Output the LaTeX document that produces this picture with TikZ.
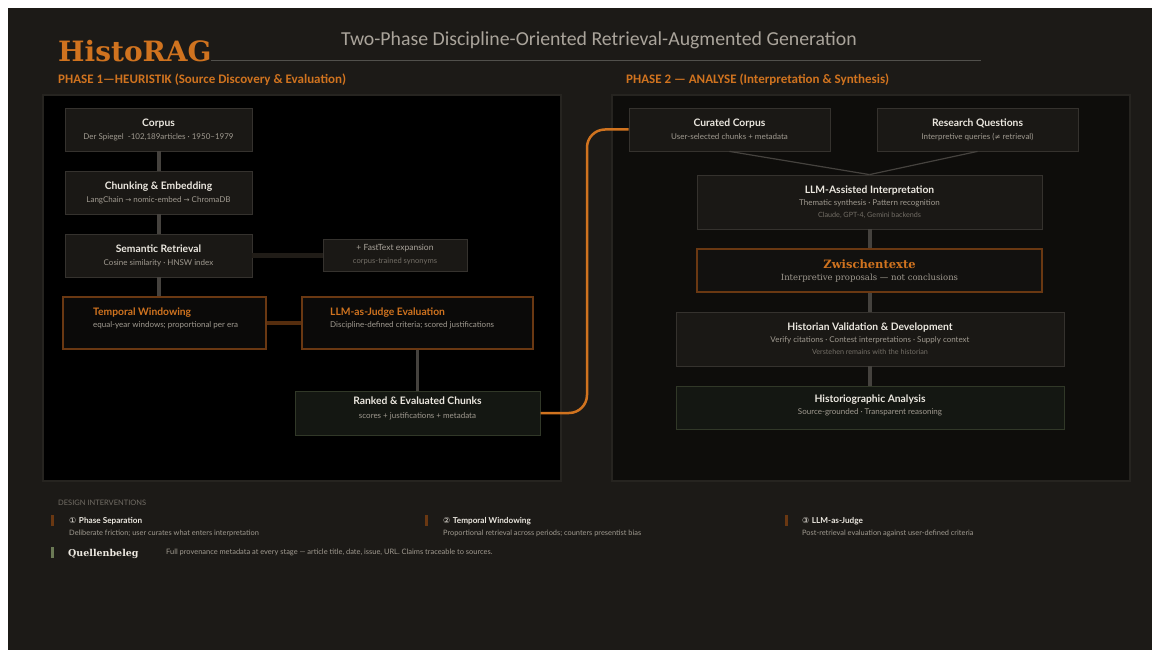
\documentclass[tikz,border=0pt]{standalone}
\usepackage{fontspec}
\setmainfont{Lato}
\newfontfamily\calfont{Carlito}
\newfontfamily\serfont{DejaVu Serif}
\newfontfamily\dvsfont{DejaVu Sans}
\definecolor{bg}{HTML}{1C1A17}
\definecolor{orng}{HTML}{D0731F}
\definecolor{orngdk}{HTML}{6A3812}
\definecolor{nodefill}{HTML}{1A1815}
\definecolor{nodeedge}{HTML}{35322E}
\definecolor{txtw}{HTML}{ECE8E0}
\definecolor{txtg}{HTML}{A09A90}
\definecolor{txtd}{HTML}{736E66}
\definecolor{conn}{HTML}{45423E}
\definecolor{greenfill}{HTML}{141712}
\definecolor{greenedge}{HTML}{313828}
\definecolor{panelb}{HTML}{0E0D0B}
\definecolor{paneledge}{HTML}{262420}
\definecolor{greenbar}{HTML}{6B7A55}
\newcommand\mkttl[1]{{\fontsize{10.3}{12}\selectfont\bfseries\color{txtw}#1}}
\newcommand\mksub[1]{{\fontsize{8}{9.5}\selectfont\color{txtg}#1}}
\newcommand\mkthd[1]{{\fontsize{7.2}{8.5}\selectfont\color{txtd}#1}}
\begin{document}
\begin{tikzpicture}[x=1pt,y=-1pt,
  box/.style={draw=nodeedge, fill=nodefill, line width=0.8pt, inner sep=0pt, align=center},
  obox/.style={draw=orngdk, fill=black!60!bg, line width=1.2pt, inner sep=0pt},
  gbox/.style={draw=greenedge, fill=greenfill, line width=1pt, inner sep=0pt, align=center},
  vconn/.style={draw=conn, line width=4pt},
  oconn/.style={draw=orngdk!80!black, line width=3.5pt},
  thinconn/.style={draw=conn, line width=1.2pt},
  flow/.style={draw=orng, line width=2.5pt, rounded corners=18pt},
  lbl/.style={inner sep=0pt, anchor=west, align=left},
]
\useasboundingbox (0,0) rectangle (1152,650);
\fill[white] (0,0) rectangle (1152,650);
\fill[bg] (8,8) rectangle (1152,650);

% header
\draw[paneledge!80!white, line width=1pt] (211,61) -- (981,61);
\node[lbl, anchor=base west, text=orng] (brand) at (58,62) {\serfont\bfseries\fontsize{28}{30}\selectfont HistoRAG};
\node[inner sep=0pt, text=txtg!90!white] (title) at (599,40) {\calfont\fontsize{19.8}{22}\selectfont Two-Phase Discipline-Oriented Retrieval-Augmented Generation};
\node[lbl, text=orng] (p1) at (58,80) {\calfont\bfseries\fontsize{13}{15}\selectfont PHASE 1—HEURISTIK (Source Discovery \& Evaluation)};
\node[lbl, text=orng] (p2) at (626,80) {\calfont\bfseries\fontsize{13}{15}\selectfont PHASE 2 — ANALYSE (Interpretation \& Synthesis)};

% panels
\draw[fill=black, draw=paneledge, line width=1.5pt] (43,95) rectangle (561,481);
\draw[fill=panelb, draw=paneledge, line width=1.5pt] (612,95) rectangle (1130,481);

% phase 1 nodes
\node[box, minimum width=187pt, minimum height=43pt] (corpus) at (158.5,129.5)
  {\mkttl{Corpus}\\[1pt]\mksub{Der Spiegel\ \ -102,189articles · 1950–1979}};
\node[box, minimum width=187pt, minimum height=43pt] (chunk) at (158.5,192.5)
  {\mkttl{Chunking \& Embedding}\\[1pt]\mksub{LangChain {\dvsfont\fontsize{7.2}{9}\selectfont →} nomic-embed {\dvsfont\fontsize{7.2}{9}\selectfont →} ChromaDB}};
\node[box, minimum width=187pt, minimum height=43pt] (sem) at (158.5,255.5)
  {\mkttl{Semantic Retrieval}\\[1pt]\mksub{Cosine similarity · HNSW index}};
\node[box, minimum width=144pt, minimum height=32pt] (fast) at (395,255)
  {{\fontsize{8.5}{10}\selectfont\color{txtg!90!white}+ FastText expansion}\\[1pt]{\fontsize{7.6}{9}\selectfont\color{txtd}corpus-trained synonyms}};
\node[obox, minimum width=203pt, minimum height=52pt] (tw) at (164.5,323) {};
\node[lbl] (twt) at (93,318) {{\fontsize{10.3}{12}\selectfont\bfseries\color{orng}Temporal Windowing}\\[0pt]\mksub{equal-year windows; proportional per era}};
\node[obox, minimum width=231pt, minimum height=52pt] (judge) at (417.5,323) {};
\node[lbl] (judget) at (330,318) {{\fontsize{10.3}{12}\selectfont\bfseries\color{orng}LLM-as-Judge Evaluation}\\[0pt]\mksub{Discipline-defined criteria; scored justifications}};
\node[gbox, minimum width=245pt, minimum height=44pt] (ranked) at (417.5,413) {};
\node[inner sep=0pt, align=center] (rankedt) at (417.5,408)
  {\mkttl{Ranked \& Evaluated Chunks}\\[2pt]\mksub{scores + justifications + metadata}};

% phase 1 connectors
\draw[vconn] (corpus.south) -- (chunk.north);
\draw[vconn] (chunk.south) -- (sem.north);
\draw[vconn] (sem.south) -- (sem.south |- tw.north);
\draw[draw=conn!120!white, line width=5pt] (sem.east) -- (fast.west |- sem.east);
\draw[oconn] (tw.east) -- (judge.west);
\draw[vconn, line width=3pt] (judge.south -| ranked.north) -- (ranked.north);

% phase 2 nodes
\node[box, minimum width=201pt, minimum height=43pt] (cc) at (729.5,129.5)
  {\mkttl{Curated Corpus}\\[1pt]\mksub{User-selected chunks + metadata}};
\node[box, minimum width=201pt, minimum height=43pt] (rq) at (977.5,129.5)
  {\mkttl{Research Questions}\\[1pt]\mksub{Interpretive queries ({\dvsfont\fontsize{7.2}{9}\selectfont ≠} retrieval)}};
\node[box, minimum width=345pt, minimum height=54pt] (llm) at (869.5,202)
  {\mkttl{LLM-Assisted Interpretation}\\[0pt]\mksub{Thematic synthesis · Pattern recognition}\\[0pt]\mkthd{Claude, GPT-4, Gemini backends}};
\node[draw=orngdk, fill=black!35!bg, line width=1.2pt, inner sep=0pt, align=center, minimum width=345pt, minimum height=43pt] (zw) at (869.5,270.5) {};
\node[inner sep=0pt, align=center] (zwt) at (869.5,271.5)
  {{\serfont\bfseries\fontsize{11.5}{13}\selectfont\color{orng}Zwischentexte}\\[0pt]{\serfont\fontsize{8.5}{10}\selectfont\color{txtg}Interpretive proposals — not conclusions}};
\node[box, minimum width=388pt, minimum height=54pt] (hist) at (870,339)
  {\mkttl{Historian Validation \& Development}\\[0pt]\mksub{Verify citations · Contest interpretations · Supply context}\\[0pt]\mkthd{Verstehen remains with the historian}};
\node[gbox, minimum width=388pt, minimum height=43pt] (hga) at (870,407.5) {};
\node[inner sep=0pt, align=center] (hgat) at (870,405.5)
  {\mkttl{Historiographic Analysis}\\[0pt]\mksub{Source-grounded · Transparent reasoning}};

% phase 2 connectors
\draw[thinconn] (cc.south) -- (llm.north);
\draw[thinconn] (rq.south) -- (llm.north);
\draw[vconn] (llm.south) -- (zw.north);
\draw[vconn] (zw.south) -- (zw.south |- hist.north);
\draw[vconn] (zw.south |- hist.south) -- (zw.south |- hga.north);

% cross-phase flow
\coordinate (bend) at (587,0);
\draw[flow] (ranked.east) -- (ranked.east -| bend) -- (cc.west -| bend) -- (cc.west);

% design interventions
\node[lbl, text=txtd] (di) at (58,503) {\fontsize{7.5}{9}\selectfont DESIGN INTERVENTIONS};
\fill[orngdk] (50.5,515) rectangle (53.5,526);
\node[lbl, text=txtw] (i1) at (69,521) {{\dvsfont\fontsize{8}{9}\selectfont ①} {\fontsize{8.2}{10}\selectfont\bfseries Phase Separation}};
\node[lbl, text=txtg] (i1s) at (69,533) {\fontsize{7.4}{9}\selectfont Deliberate friction; user curates what enters interpretation};
\fill[orngdk] (424.5,515) rectangle (427.5,526);
\node[lbl, text=txtw] (i2) at (443,521) {{\dvsfont\fontsize{8}{9}\selectfont ②} {\fontsize{8.2}{10}\selectfont\bfseries Temporal Windowing}};
\node[lbl, text=txtg] (i2s) at (443,533) {\fontsize{7.4}{9}\selectfont Proportional retrieval across periods; counters presentist bias};
\fill[orngdk] (784.5,515) rectangle (787.5,526);
\node[lbl, text=txtw] (i3) at (802,521) {{\dvsfont\fontsize{8}{9}\selectfont ③} {\fontsize{8.2}{10}\selectfont\bfseries LLM-as-Judge}};
\node[lbl, text=txtg] (i3s) at (802,533) {\fontsize{7.4}{9}\selectfont Post-retrieval evaluation against user-defined criteria};
\fill[greenbar] (50.5,547) rectangle (53.5,558);
\node[lbl, text=txtw] (qb) at (68,554) {\serfont\bfseries\fontsize{9.5}{11}\selectfont Quellenbeleg};
\node[lbl, text=txtg] (qbs) at (166,552) {\fontsize{7.45}{9}\selectfont Full provenance metadata at every stage — article title, date, issue, URL. Claims traceable to sources.};
\end{tikzpicture}
\end{document}
